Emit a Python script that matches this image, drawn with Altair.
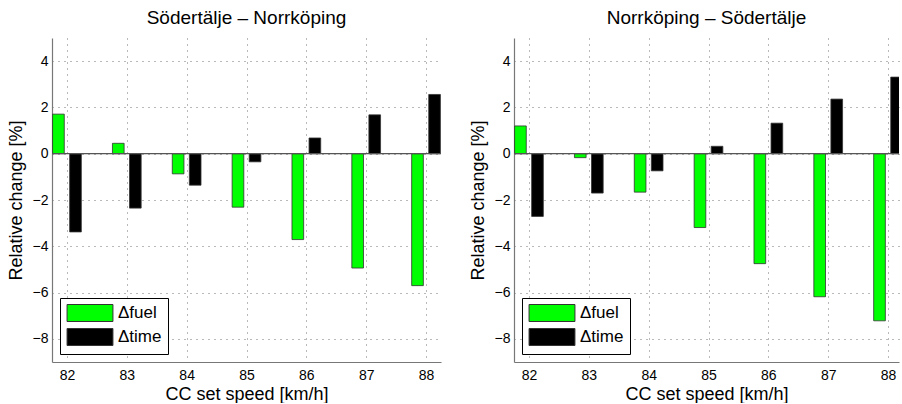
import altair as alt
import pandas as pd

speeds = [82, 83, 84, 85, 86, 87, 88]
fuel_sn = [1.71, 0.45, -0.87, -2.31, -3.71, -4.94, -5.70]
time_sn = [-3.38, -2.35, -1.36, -0.35, 0.68, 1.68, 2.56]
fuel_ns = [1.20, -0.17, -1.66, -3.19, -4.75, -6.18, -7.22]
time_ns = [-2.71, -1.70, -0.74, 0.32, 1.32, 2.36, 3.31]
series = ["Δfuel", "Δtime"]
colors = ["#00ff00", "#000000"]
titles = ["Södertälje – Norrköping", "Norrköping – Södertälje"]
y_ticks = [-8, -6, -4, -2, 0, 2, 4]

FONT = "Liberation Sans"


def make_df(fuel, time):
    rows = []
    for s, f, t in zip(speeds, fuel, time):
        rows.append({"speed": s, "series": series[0], "value": f})
        rows.append({"speed": s, "series": series[1], "value": t})
    return pd.DataFrame(rows)


def panel(df, title, xmax, width):
    base = alt.Chart(df).transform_calculate(
        side="datum.series == 'Δfuel' ? -1 : 1"
    ).transform_calculate(
        x0="datum.speed + datum.side * 0.045",
        x1="datum.speed + datum.side * 0.24",
    )
    xscale = alt.Scale(domain=[81.75, xmax], nice=False, zero=False)
    yscale = alt.Scale(domain=[-9, 5], nice=False, zero=False)
    bars = base.mark_bar(stroke="#333333", strokeWidth=0.8, clip=True).encode(
        x=alt.X("x0:Q", scale=xscale,
                axis=alt.Axis(values=speeds, format="d", title="CC set speed [km/h]",
                              labelPadding=6, titlePadding=3)),
        x2="x1:Q",
        y=alt.Y("value:Q", scale=yscale,
                axis=alt.Axis(values=y_ticks, title="Relative change [%]",
                              labelPadding=4, titlePadding=7)),
        y2=alt.datum(0),
        color=alt.Color("series:N",
                        scale=alt.Scale(domain=series, range=colors),
                        legend=alt.Legend(title=None)),
    )
    zero = alt.Chart(pd.DataFrame({"z": [0]})).mark_rule(
        color="#555555", strokeWidth=1.2
    ).encode(y=alt.datum(0))
    return alt.layer(bars, zero).properties(
        width=width, height=324,
        title=alt.TitleParams(title, fontSize=19, font=FONT, fontWeight="normal",
                              offset=10, anchor="middle", color="black"),
    )


left = panel(make_df(fuel_sn, time_sn), titles[0], 88.25, 389)
right = panel(make_df(fuel_ns, time_ns), titles[1], 88.183, 385)

chart = alt.hconcat(left, right, spacing=27).resolve_legend(
    color="independent"
).properties(
    padding={"left": 7, "top": 9, "right": 0, "bottom": 0}
).configure_view(stroke=None).configure_axis(
    labelFont=FONT, titleFont=FONT, labelFontSize=14, titleFontSize=18,
    titleFontWeight="normal", labelColor="black", titleColor="black",
    domainColor="#777777", domainWidth=1.2, ticks=False,
    gridColor="#000000", gridDash=[1, 5], gridOpacity=0.55, gridWidth=1,
).configure_legend(
    orient="bottom-left", offset=8, fillColor="white", strokeColor="black",
    padding=6, labelFont=FONT, labelFontSize=17, labelColor="black",
    symbolType="M-2.7,-1L2.7,-1L2.7,1L-2.7,1Z", symbolSize=289,
    symbolStrokeColor="#333333", symbolStrokeWidth=1, symbolOpacity=1,
    symbolOffset=15, rowPadding=2, labelOffset=19,
)

chart.save("out.html", embed_options={"renderer": "svg", "actions": False})
